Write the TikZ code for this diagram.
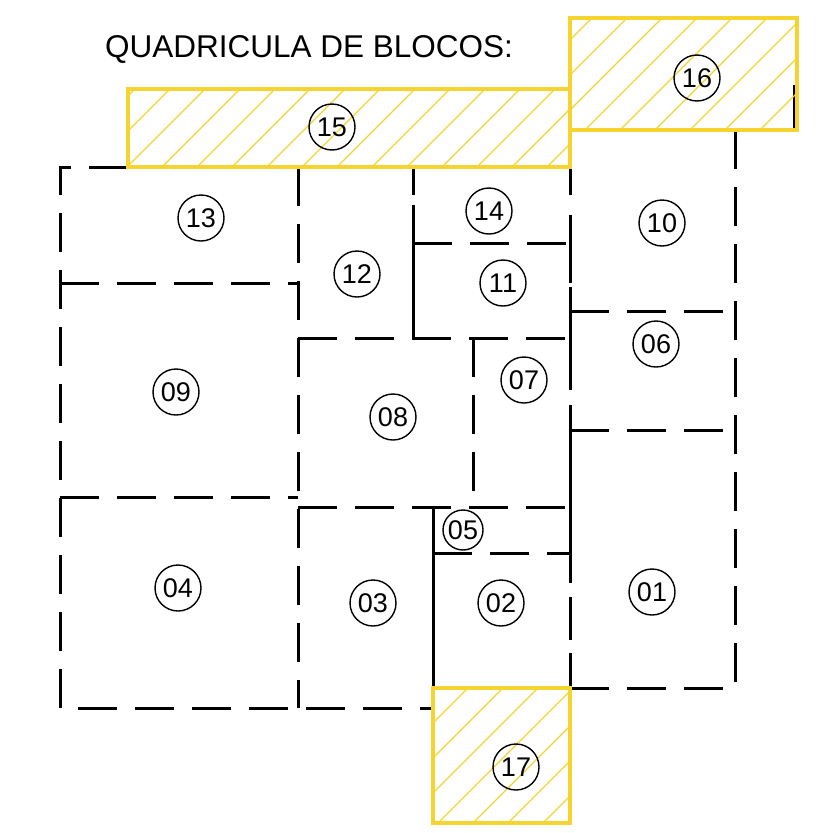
\documentclass[tikz,border=0pt]{standalone}
\usepackage{fontspec}
\setmainfont{Liberation Sans}
\definecolor{bloco}{RGB}{246,212,48}
\begin{document}
\begin{tikzpicture}[x=1pt,y=-1pt,
  wall/.style={line width=3pt,black},
  dwall/.style={wall,dash pattern=on 39pt off 18pt},
  lbl/.style={circle,draw,line width=1.4pt,minimum size=46pt,inner sep=0pt,
    font=\fontsize{27}{27}\selectfont},
  ybox/.style={draw=bloco,line width=4.5pt},
  hatch/.style={bloco,line width=1.3pt}]
\useasboundingbox (0,0) rectangle (828,833);
\fill[white] (0,0) rectangle (828,833);

% title
\node[anchor=base west,inner sep=0pt,font=\fontsize{31.5}{31.5}\selectfont] (title) at (105,57) {QUADRICULA DE BLOCOS:};

% dashed walls
\draw[dwall] (128,167) -- (60,167) -- (60,708) -- (433,708);
\draw[dwall] (60,283) -- (298,283);
\draw[dwall] (60,497) -- (298,497);
\draw[dwall] (298,167) -- (298,708);
\draw[dwall] (413,243) -- (570,243);
\draw[dwall] (298,338) -- (570,338);
\draw[dwall] (473,338) -- (473,507);
\draw[dwall] (298,507) -- (570,507);
\draw[dwall] (433,553) -- (570,553);
\draw[dwall] (570,688) -- (735,688) -- (735,130);
\draw[dwall] (570,311) -- (735,311);
\draw[dwall] (570,430) -- (735,430);

% solid walls
\draw[wall] (413,167) -- (413,195);
\draw[wall] (413,205) -- (413,338);
\draw[wall] (433,507) -- (433,688);
\foreach \a/\b in {167/195,215/283,287/390,405/583,597/640,653/688}
  \draw[wall] (570,\a) -- (570,\b);
\draw[wall] (128,137) -- (128,167);
\draw[wall] (794,85) -- (794,128);

% hatched boxes
\begin{scope}
  \clip (128,89) rectangle (570,167);
  \foreach \c in {224,259,...,760}
    \draw[hatch] (\c-167,167) -- (\c-89,89);
\end{scope}
\draw[ybox] (128,89) rectangle (570,167);
\begin{scope}
  \clip (570,18) rectangle (797,130);
  \foreach \c in {575,610,...,930}
    \draw[hatch] (\c-130,130) -- (\c-18,18);
\end{scope}
\draw[ybox] (570,18) rectangle (797,130);
\begin{scope}
  \clip (433,688) rectangle (570,823);
  \foreach \c in {1121,1156,...,1400}
    \draw[hatch] (\c-823,823) -- (\c-688,688);
\end{scope}
\draw[ybox] (433,688) rectangle (570,823);

% labels
\node[lbl] (b13) at (201,218) {13};
\node[lbl] (b15) at (332,127) {15};
\node[lbl] (b16) at (697,78) {16};
\node[lbl] (b12) at (357,274) {12};
\node[lbl] (b14) at (489,211) {14};
\node[lbl] (b11) at (503,283) {11};
\node[lbl] (b10) at (662,223) {10};
\node[lbl] (b06) at (656,344) {06};
\node[lbl] (b09) at (176,392) {09};
\node[lbl] (b08) at (393,417) {08};
\node[lbl] (b07) at (524,380) {07};
\node[lbl,minimum size=40pt] (b05) at (463,530) {05};
\node[lbl] (b04) at (178,588) {04};
\node[lbl] (b03) at (373,603) {03};
\node[lbl] (b02) at (501,603) {02};
\node[lbl] (b01) at (652,592) {01};
\node[lbl] (b17) at (516,767) {17};
\end{tikzpicture}
\end{document}
